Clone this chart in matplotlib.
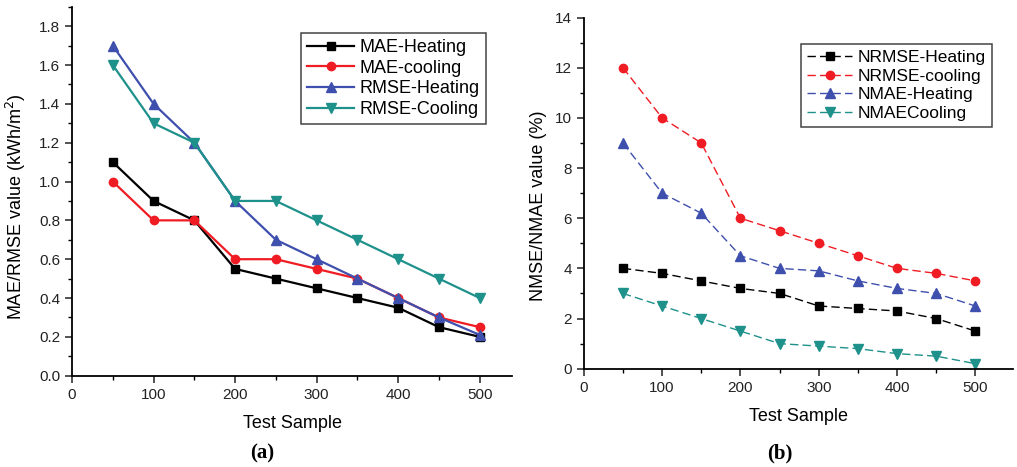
# MAE/RMSE and NRMSE/NMAE against test sample size

import matplotlib.pyplot as plt
from matplotlib.ticker import MultipleLocator

plt.rcParams['font.family'] = ['Liberation Sans', 'DejaVu Sans']

test_sample = [50, 100, 150, 200, 250, 300, 350, 400, 450, 500]

mae_heating = [1.1, 0.9, 0.8, 0.55, 0.5, 0.45, 0.4, 0.35, 0.25, 0.2]
mae_cooling = [1.0, 0.8, 0.8, 0.6, 0.6, 0.55, 0.5, 0.4, 0.3, 0.25]
rmse_heating = [1.7, 1.4, 1.2, 0.9, 0.7, 0.6, 0.5, 0.4, 0.3, 0.21]
rmse_cooling = [1.6, 1.3, 1.2, 0.9, 0.9, 0.8, 0.7, 0.6, 0.5, 0.4]

nrmse_heating = [4.0, 3.8, 3.5, 3.2, 3.0, 2.5, 2.4, 2.3, 2.0, 1.5]
nrmse_cooling = [12, 10, 9, 6, 5.5, 5, 4.5, 4, 3.8, 3.5]
nmae_heating = [9, 7, 6.2, 4.5, 4, 3.9, 3.5, 3.2, 3.0, 2.5]
nmae_cooling = [3, 2.5, 2, 1.5, 1, 0.9, 0.8, 0.6, 0.5, 0.2]

black = "black"
red = "#f01c24"
blue = "#3f4fae"
teal = "#1e918b"

fig = plt.figure(figsize=(10.17, 4.67), dpi=100)
ax1 = fig.add_axes([0.0708, 0.1955, 0.433, 0.79])
ax2 = fig.add_axes([0.574, 0.2105, 0.422, 0.752])


def style_axes(ax):
	for side in ["top", "right"]:
		ax.spines[side].set_visible(False)
	for side in ["left", "bottom"]:
		ax.spines[side].set_linewidth(1.3)
	ax.xaxis.set_major_locator(MultipleLocator(100))
	ax.xaxis.set_minor_locator(MultipleLocator(50))
	ax.tick_params(which="major", direction="out", length=5, width=1.1,
			labelsize=11, colors="#222222")
	ax.tick_params(which="minor", direction="out", length=3, width=1.0)
	ax.set_xlabel("Test Sample", fontsize=13, labelpad=10)


# (a)
ax1.plot(test_sample, mae_heating, color=black, linewidth=1.6, marker="s",
		markersize=6, label="MAE-Heating")
ax1.plot(test_sample, mae_cooling, color=red, linewidth=1.6, marker="o",
		markersize=6, label="MAE-cooling")
ax1.plot(test_sample, rmse_heating, color=blue, linewidth=1.6, marker="^",
		markersize=7, label="RMSE-Heating")
ax1.plot(test_sample, rmse_cooling, color=teal, linewidth=1.6, marker="v",
		markersize=7, label="RMSE-Cooling")
style_axes(ax1)
ax1.set_xlim(0, 540)
ax1.set_ylim(0, 1.9)
ax1.yaxis.set_minor_locator(MultipleLocator(0.1))
ax1.set_yticks([0, 0.2, 0.4, 0.6, 0.8, 1.0, 1.2, 1.4, 1.6, 1.8])
ax1.set_yticklabels(["0.0", "0.2", "0.4", "0.6", "0.8", "1.0", "1.2", "1.4", "1.6", "1.8"])
ax1.set_ylabel("MAE/RMSE value (kWh/m$^2$)", fontsize=13)
ax1.yaxis.set_label_coords(-0.10, 0.457)
leg1 = ax1.legend(loc="upper left", bbox_to_anchor=(0.499, 0.954), fontsize=13,
		handlelength=2.6, handletextpad=0.3, labelspacing=0.2,
		borderpad=0.35, fancybox=False, framealpha=1)
leg1.get_frame().set_edgecolor("#444444")
leg1.get_frame().set_linewidth(1.1)

# (b)
dash = (0, (6, 3))
ax2.plot(test_sample, nrmse_heating, color=black, linewidth=1.0, linestyle=dash,
		marker="s", markersize=6, label="NRMSE-Heating")
ax2.plot(test_sample, nrmse_cooling, color=red, linewidth=1.0, linestyle=dash,
		marker="o", markersize=6, label="NRMSE-cooling")
ax2.plot(test_sample, nmae_heating, color=blue, linewidth=1.0, linestyle=dash,
		marker="^", markersize=7, label="NMAE-Heating")
ax2.plot(test_sample, nmae_cooling, color=teal, linewidth=1.0, linestyle=dash,
		marker="v", markersize=7, label="NMAECooling")
style_axes(ax2)
ax2.set_xlim(0, 548)
ax2.set_ylim(0, 14)
ax2.yaxis.set_major_locator(MultipleLocator(2))
ax2.yaxis.set_minor_locator(MultipleLocator(1))
ax2.set_ylabel("NMSE/NMAE value (%)", fontsize=13)
ax2.yaxis.set_label_coords(-0.086, 0.463)
leg2 = ax2.legend(loc="upper left", bbox_to_anchor=(0.486, 0.95), fontsize=12.5,
		handlelength=2.6, handletextpad=0.3, labelspacing=0.2,
		borderpad=0.35, fancybox=False, framealpha=1)
leg2.get_frame().set_edgecolor("#444444")
leg2.get_frame().set_linewidth(1.1)

fig.text(262 / 1017, 1 - 453 / 467, "(a)", ha="center", va="center",
		fontsize=15, fontweight="bold", family="Liberation Serif")
fig.text(780 / 1017, 1 - 453 / 467, "(b)", ha="center", va="center",
		fontsize=15, fontweight="bold", family="Liberation Serif")

plt.savefig("out.png", dpi=100)
plt.close()
